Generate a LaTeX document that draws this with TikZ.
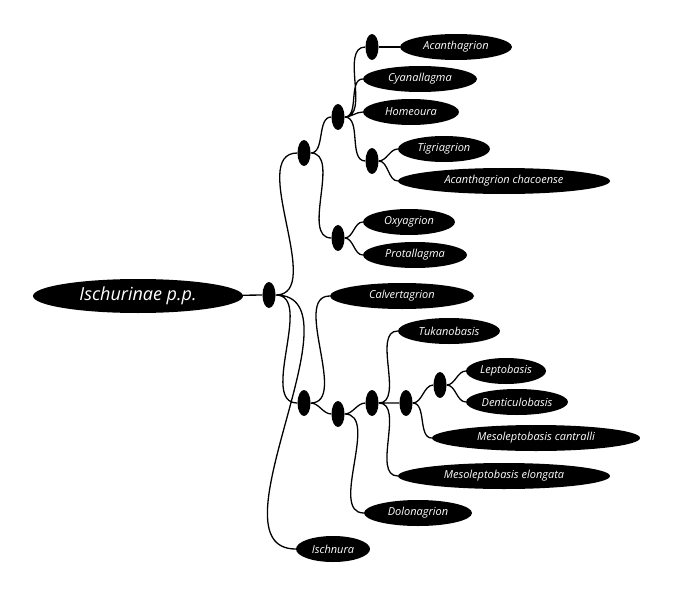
\documentclass[tikz,border=0pt]{standalone}
\usepackage{fontspec}
\setmainfont{Open Sans}
\usetikzlibrary{positioning,shapes.geometric}
\tikzset{
  taxon/.style={ellipse,fill=black,text=white,inner sep=0pt,minimum height=26pt,font=\itshape\fontsize{11}{12}\selectfont},
  knot/.style={ellipse,fill=black,inner sep=0pt,minimum width=13pt,minimum height=26pt},
  branch/.style={line width=1.3pt,out=0,in=180,looseness=0.9}
}
\begin{document}
\begin{tikzpicture}[x=1pt,y=-1pt]
\useasboundingbox (0,0) rectangle (674,599);

		% root
		\node[taxon,minimum width=210pt,minimum height=34pt,font=\itshape\fontsize{18}{20}\selectfont] (root) at (138,296) {Ischurinae p.p.};
		\node[knot] (d0) at (269,295) {};

		% upper clade
		\node[knot] (d1) at (304,153) {};
		\node[knot] (d2) at (338,117) {};
		\node[knot] (d3) at (372,47) {};
		\node[knot] (d4) at (372,161) {};
		\node[knot] (d5) at (338,238) {};
		\node[taxon,minimum width=112pt] (acan) at (456,47) {Acanthagrion};
		\node[taxon,minimum width=114pt] (cyan) at (420,79) {Cyanallagma};
		\node[taxon,minimum width=96pt] (home) at (411,112) {Homeoura};
		\node[taxon,minimum width=92pt] (tigr) at (444,149) {Tigriagrion};
		\node[taxon,minimum width=212pt] (chac) at (504,181) {Acanthagrion chacoense};
		\node[taxon,minimum width=92pt] (oxya) at (409,222) {Oxyagrion};
		\node[taxon,minimum width=104pt] (prot) at (415,255) {Protallagma};

		% lower clade
		\node[taxon,minimum width=144pt] (calv) at (402,296) {Calvertagrion};
		\node[knot] (d6) at (304,403) {};
		\node[knot] (d7) at (338,414) {};
		\node[knot] (d8) at (372,403) {};
		\node[knot] (d9) at (406,403) {};
		\node[knot] (d10) at (440,385) {};
		\node[taxon,minimum width=102pt] (tuka) at (449,331) {Tukanobasis};
		\node[taxon,minimum width=80pt] (lept) at (506,371) {Leptobasis};
		\node[taxon,minimum width=102pt] (dent) at (517,402) {Denticulobasis};
		\node[taxon,minimum width=208pt] (cant) at (536,438) {Mesoleptobasis cantralli};
		\node[taxon,minimum width=212pt] (elon) at (504,476) {Mesoleptobasis elongata};
		\node[taxon,minimum width=108pt] (dolo) at (418,513) {Dolonagrion};
		\node[taxon,minimum width=74pt] (isch) at (333,549) {Ischnura};

		% branches
		\draw[line width=1.3pt] (root) -- (d0);
		\draw[line width=1.3pt] (d3) -- (acan);
		\draw[branch] (d0.east) to (d1.west) (d0.east) to (d6.west) (d0.east) to (isch.west);
		\draw[branch] (d1.east) to (d2.west) (d1.east) to (d5.west);
		\draw[branch] (d2.east) to (d3.west) (d2.east) to (cyan.west) (d2.east) to (home.west) (d2.east) to (d4.west);
		\draw[branch] (d4.east) to (tigr.west) (d4.east) to (chac.west);
		\draw[branch] (d5.east) to (oxya.west) (d5.east) to (prot.west);
		\draw[branch] (d6.east) to (calv.west) (d6.east) to (d7.west);
		\draw[branch] (d7.east) to (d8.west) (d7.east) to (dolo.west);
		\draw[branch] (d8.east) to (tuka.west) (d8.east) to (d9.west) (d8.east) to (elon.west);
		\draw[branch] (d9.east) to (d10.west) (d9.east) to (cant.west);
		\draw[branch] (d10.east) to (lept.west) (d10.east) to (dent.west);

	\end{tikzpicture}
\end{document}
